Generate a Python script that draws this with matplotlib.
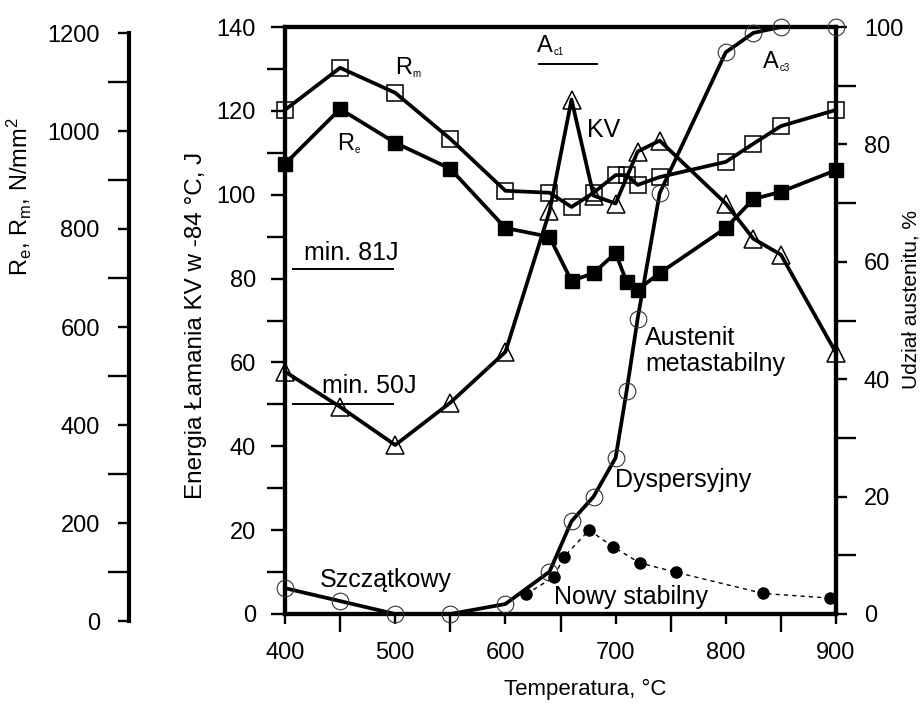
import matplotlib
matplotlib.use('Agg')
from matplotlib import pyplot as plt
from matplotlib.ticker import MultipleLocator

plt.rcParams['font.family'] = ['Liberation Sans', 'DejaVu Sans']
plt.rcParams['mathtext.fontset'] = 'custom'
plt.rcParams['mathtext.rm'] = 'Liberation Sans'
plt.rcParams['mathtext.it'] = 'Liberation Sans'

# temperatura odpuszczania, °C
temp = [400, 450, 500, 550, 600, 640, 660, 680, 700, 710, 720, 740, 800, 825, 850, 900]
# Rm i Re, N/mm2
rm = [1043, 1129, 1078, 984, 878, 874, 845, 874, 910, 910, 890, 906, 937, 974, 1010, 1043]
re_ = [933, 1045, 976, 923, 802, 784, 694, 710, 751, 692, 676, 710, 802, 861, 876, 920]
# udzial austenitu, %
austenit = [4.4, 2.2, 0, 0, 1.7, 7.2, 15.8, 20, 26.6, 38, 50.3, 71.7, 95.7, 99, 100, 100]

# energia lamania KV, J
temp_kv = [400, 450, 500, 550, 600, 640, 660, 680, 700, 720, 740, 800, 825, 850, 900]
kv = [57.8, 49.4, 40.3, 50.4, 62.5, 96, 122.7, 99.8, 97.9, 110.3, 112.9, 97.9, 89.5, 85.7, 62.3]

# austenit nowy stabilny, %
temp_nowy = [619, 644, 653, 676, 698, 722, 755, 834, 895]
nowy = [3.4, 6.3, 9.7, 14.3, 11.4, 8.7, 7.1, 3.5, 2.7]

# wymagania minimalne KV i zakres Ac1
kv_min = [82.2, 50.1]
kv_min_label = ['min. 81J', 'min. 50J']
ac1_range = [630, 684]

W, H = 924, 713
fig = plt.figure(figsize=(W / 100, H / 100), dpi=100)


def fx(px):
    return px / W


def fy(py):
    return 1 - py / H


# polozenie osi w pikselach
L, R, B, T = 285, 836, 614, 27
FAR_X, FAR_B, FAR_T = 129, 621, 33

ax = fig.add_axes([fx(L), fy(B), fx(R) - fx(L), fy(T) - fy(B)])
ax_a = ax.twinx()
ax_r = ax.twinx()

SPINE = 3.0
TW = 1.7
FS = 17    # opisy podzialek
FA = 18    # napisy na wykresie

# os KV (lewa)
ax.set_xlim(400, 900)
ax.set_ylim(0, 140)
ax.xaxis.set_major_locator(MultipleLocator(100))
ax.xaxis.set_minor_locator(MultipleLocator(50))
ax.yaxis.set_major_locator(MultipleLocator(20))
ax.yaxis.set_minor_locator(MultipleLocator(10))
ax.tick_params(axis='y', which='major', direction='out', length=10, width=TW, labelsize=FS, pad=11)
ax.tick_params(axis='y', which='minor', direction='out', length=13, width=TW)
ax.tick_params(axis='x', which='major', direction='out', length=7.5, width=TW, labelsize=FS, pad=13)
ax.tick_params(axis='x', which='minor', direction='out', length=13, width=TW)
for s in ax.spines.values():
    s.set_linewidth(SPINE)

# os austenitu (prawa)
ax_a.set_ylim(0, 100)
ax_a.yaxis.set_major_locator(MultipleLocator(20))
ax_a.yaxis.set_minor_locator(MultipleLocator(10))
ax_a.tick_params(axis='y', which='major', direction='out', length=8, width=TW, labelsize=FS, pad=12)
ax_a.tick_params(axis='y', which='minor', direction='out', length=14.5, width=TW)
for s in ax_a.spines.values():
    s.set_linewidth(SPINE)

# os Rm/Re - dane rysowane na niewidocznej osi dopasowanej do skali z lewej
k = 1200 / (FAR_B - FAR_T)
ax_r.set_ylim((FAR_B - B) * k, (FAR_B - T) * k)
ax_r.set_yticks([])
for s in ax_r.spines.values():
    s.set_visible(False)

# skrajna lewa os N/mm2
ax_far = fig.add_axes([fx(FAR_X), fy(FAR_B), 0.02, fy(FAR_T) - fy(FAR_B)])
ax_far.set_ylim(0, 1200)
ax_far.patch.set_visible(False)
for side in ['right', 'top', 'bottom']:
    ax_far.spines[side].set_visible(False)
ax_far.spines['left'].set_linewidth(SPINE)
ax_far.set_xticks([])
ax_far.yaxis.set_major_locator(MultipleLocator(200))
ax_far.yaxis.set_minor_locator(MultipleLocator(100))
ax_far.tick_params(axis='y', which='major', direction='out', length=8, width=TW, labelsize=FS, pad=13)
ax_far.tick_params(axis='y', which='minor', direction='out', length=15, width=TW)

LW = 2.7
# austenit
ax_a.plot(temp, austenit, color='black', lw=LW, marker='o', ms=12, mfc='none',
          mec='#333333', mew=0.8, clip_on=False, zorder=3)
ax_a.plot(temp_nowy, nowy, color='black', lw=1.0, ls=(0, (3, 3)), marker='o', ms=8,
          mfc='black', mec='black', clip_on=False, zorder=3)
# Rm, Re
ax_r.plot(temp, rm, color='black', lw=LW, marker='s', ms=12, mfc='none', mec='black',
          mew=1.1, clip_on=False, zorder=4)
ax_r.plot(temp, re_, color='black', lw=LW, marker='s', ms=10.5, mfc='black', mec='black',
          clip_on=False, zorder=4)
# KV
ax.plot(temp_kv, kv, color='black', lw=LW, marker='^', ms=12.5, mfc='none', mec='black',
        mew=1.1, clip_on=False, zorder=4)

# linie minimalnych wymagan
ax.hlines(kv_min, 406, 499, colors='black', lw=1.4)
ax.text(417, 84.4, kv_min_label[0], fontsize=FA, va='baseline')
ax.text(433.6, 52.7, kv_min_label[1], fontsize=FA, va='baseline')
ax.hlines(131.2, ac1_range[0], ac1_range[1], colors='black', lw=1.4)


def sub_label(x, y, main, sub):
    t = ax.text(x, y, main, fontsize=FS, va='baseline')
    ax.annotate(sub, xy=(1, 0), xycoords=t, xytext=(0.5, 0), textcoords='offset points',
                fontsize=7, va='bottom', ha='left')


sub_label(499.8, 128.8, 'R', 'm')
sub_label(447.2, 110.7, 'R', 'e')
sub_label(628.7, 134.0, 'A', 'c1')
sub_label(833.8, 130.2, 'A', 'c3')
ax.text(674, 113.8, 'KV', fontsize=FA, va='baseline')

ax.text(431.8, 6.4, 'Szczątkowy', fontsize=FA, va='baseline')
ax.text(644, 2.4, 'Nowy stabilny', fontsize=FA, va='baseline')
ax.text(699.5, 30.3, 'Dyspersyjny', fontsize=FA, va='baseline')
ax.text(726.7, 64.2, 'Austenit', fontsize=FA, va='baseline')
ax.text(726.7, 58.0, 'metastabilny', fontsize=FA, va='baseline')

# opisy osi
fig.text(fx(19), fy(197), r'R$_\mathregular{e}$, R$_\mathregular{m}$, N/mm$^\mathregular{2}$',
         rotation=90, ha='center', va='center', fontsize=17)
fig.text(fx(196), fy(325), 'Energia Łamania KV w -84 °C, J', rotation=90,
         ha='center', va='center', fontsize=17.5)
fig.text(fx(911), fy(299), 'Udział austenitu, %', rotation=90,
         ha='center', va='center', fontsize=15)
fig.text(fx(585), fy(689), 'Temperatura, °C', ha='center', va='center', fontsize=16)

fig.savefig('out.png', dpi=100)
